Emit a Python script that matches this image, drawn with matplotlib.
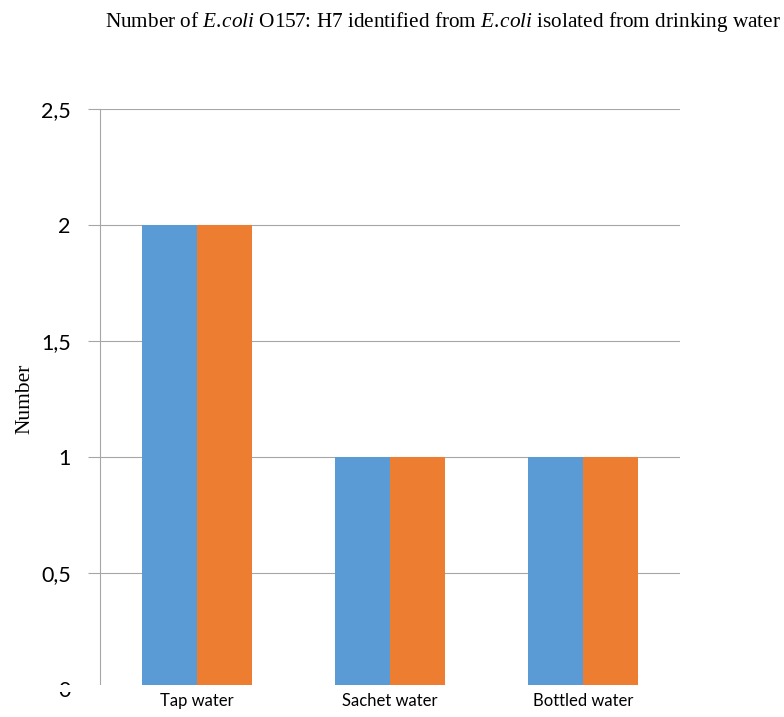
import numpy as np
import matplotlib.pyplot as plt
from matplotlib.patches import Rectangle

# data
sources = ["Tap water", "Sachet water", "Bottled water"]
series_a = [2, 1, 1]
series_b = [2, 1, 1]
yticks = [0, 0.5, 1, 1.5, 2, 2.5]
ytick_labels = ["0", "0,5", "1", "1,5", "2", "2,5"]

blue = "#5B9BD5"
orange = "#ED7D31"
grey = "#A6A6A6"

plt.rcParams['mathtext.fontset'] = 'custom'
plt.rcParams['mathtext.rm'] = 'Liberation Serif'
plt.rcParams['mathtext.it'] = 'Liberation Serif:italic'

W, H = 784, 717
fig = plt.figure(figsize=(W / 100, H / 100), dpi=100)
ax = fig.add_axes([100 / W, 1 - 689 / H, 580 / W, 580 / H])

x = np.arange(len(sources))
bw = 0.285
ax.bar(x - bw / 2, series_a, bw, color=blue, zorder=3)
ax.bar(x + bw / 2, series_b, bw, color=orange, zorder=3)

ax.set_xlim(-0.5, len(sources) - 0.5)
ax.set_ylim(0, 2.5)
ax.set_yticks(yticks)
ax.set_yticklabels(ytick_labels, fontfamily="Lato", fontsize=15.5)
ax.set_xticks(x)
ax.set_xticklabels(sources, fontfamily="Lato", fontsize=12)
ax.tick_params(axis="x", length=0, pad=3)
ax.tick_params(axis="y", length=9, width=0.8, color=grey, pad=12)
ax.yaxis.grid(True, color=grey, linewidth=0.8, zorder=0)
for s in ["top", "right", "bottom"]:
    ax.spines[s].set_visible(False)
ax.spines["left"].set_color(grey)
ax.spines["left"].set_linewidth(0.8)

ax.set_ylabel("Number", fontfamily="Liberation Serif", fontsize=15.5, labelpad=5)

fig.text(443 / W, 1 - 22 / H,
         r"Number of $\mathit{E.\!coli}$ O157: H7 identified from $\mathit{E.\!coli}$ isolated from drinking water",
         ha="center", va="center", fontfamily="Liberation Serif", fontsize=15.3)

# the plot area in the reference is cut off just above the baseline
fig.patches.append(Rectangle((0, 1 - 692 / H), 1, 7 / H, transform=fig.transFigure,
                             facecolor="white", edgecolor="none", zorder=5))

fig.savefig("out.png", dpi=100)
